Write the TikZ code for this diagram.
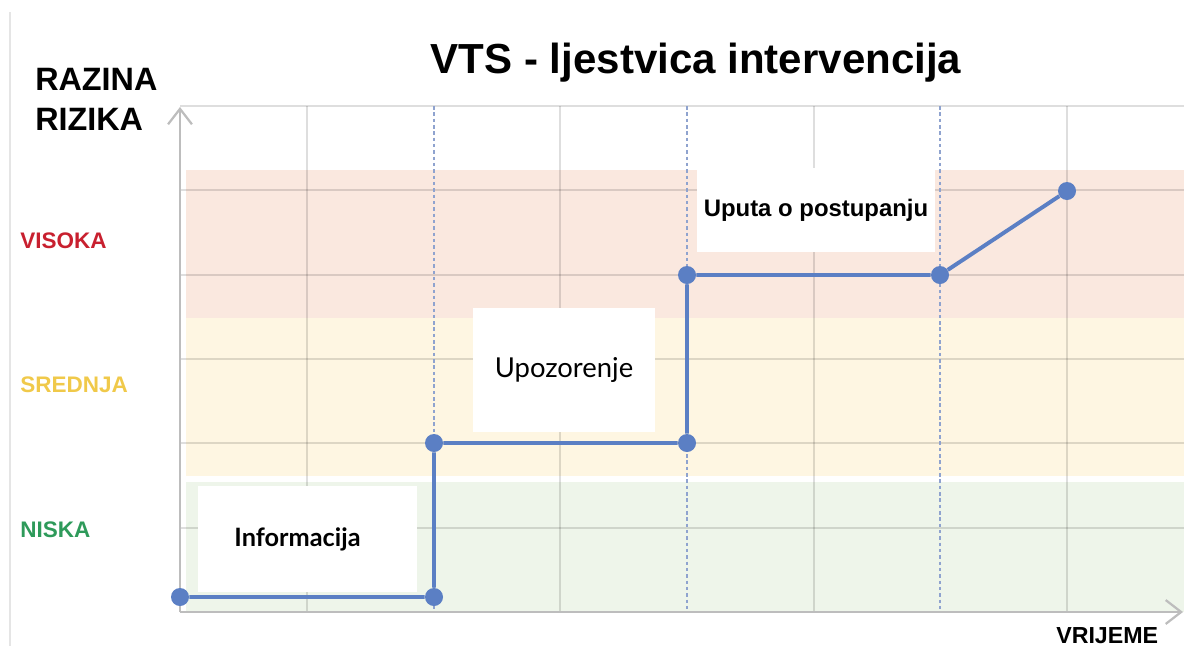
\documentclass[tikz,border=0pt]{standalone}
\usepackage{fontspec}
\setmainfont{Liberation Sans}
\newfontfamily\latofont{Lato}
\usetikzlibrary{arrows.meta, positioning}
\definecolor{bandhigh}{HTML}{FAE8DF}
\definecolor{bandmid}{HTML}{FEF6E2}
\definecolor{bandlow}{HTML}{EEF5EA}
\definecolor{stepblue}{HTML}{5B7FC4}
\definecolor{dashblue}{HTML}{8FA3CF}
\definecolor{axisgray}{HTML}{BDBDBD}
\definecolor{txthigh}{HTML}{C8202F}
\definecolor{txtmid}{HTML}{F0C94A}
\definecolor{txtlow}{HTML}{2E9A5A}
\tikzset{
  gridline/.style = {draw=black, draw opacity=0.13, line width=1.1pt},
  switchline/.style = {draw=dashblue, line width=1.5pt, dash pattern=on 2.5pt off 2pt},
  stepline/.style = {draw=stepblue, line width=2.8pt},
  dot/.style = {circle, fill=stepblue, inner sep=0pt, minimum size=12.8pt},
  axis/.style = {draw=axisgray, line width=2pt, -{Straight Barb[length=11pt, width=17pt, line width=1.6pt]}},
  msgbox/.style = {fill=white, inner sep=0pt},
  level/.style = {font=\fontsize{16}{18}\selectfont\bfseries, anchor=base west}
}

\begin{document}
\begin{tikzpicture}[x=0.025cm, y=-0.025cm]
  \useasboundingbox (0,0) rectangle (1184,646);
  \draw[black!10, line width=0.8pt] (10,12) -- (10,646);

  % risk bands
  \fill[bandhigh] (186,170) rectangle (1184,318);
  \fill[bandmid] (186,318) rectangle (1184,476);
  \fill[bandlow] (186,482) rectangle (1184,612);

  % grid
  \draw[gridline] (180,106) -- (1184,106);
  \foreach \y in {190,275,359,443,528} \draw[gridline] (180,\y) -- (1184,\y);
  \foreach \x in {307,560,814,1067} \draw[gridline] (\x,106) -- (\x,612);
  \foreach \x in {434,687,940} \draw[switchline] (\x,106) -- (\x,612);

  % messages
  \node[msgbox, minimum width=5.48cm, minimum height=2.65cm] (info) at (307.5,539)
    {\latofont\fontsize{18}{20}\selectfont\bfseries Informacija\hspace*{0.5cm}};
  \node[msgbox, minimum width=4.55cm, minimum height=3.1cm] (warn) at (564,370)
    {\latofont\fontsize{19.5}{22}\selectfont Upozorenje};
  \node[msgbox, minimum width=5.95cm, minimum height=2.1cm] (instr) at (816,210)
    {\fontsize{17}{20}\selectfont\bfseries Uputa o postupanju};

  % axes
  \coordinate (origin) at (180,612);
  \coordinate (ytip) at (180,107);
  \coordinate (xtip) at (1183,612);
  \draw[axis] (origin) -- (ytip);
  \draw[axis] (origin) -- (xtip);

  % escalation
  \path (180,597) node[dot] (p0) {}
      ++(254,0) node[dot] (p1) {}
      ++(0,-154) node[dot] (p2) {}
      ++(253,0) node[dot] (p3) {}
      ++(0,-168) node[dot] (p4) {}
      ++(253,0) node[dot] (p5) {}
      ++(127,-84) node[dot] (p6) {};
  \draw[stepline] (p0) -- (p1) -- (p2) -- (p3) -- (p4) -- (p5) -- (p6);

  % labels
  \node[font=\fontsize{29.9}{34}\selectfont\bfseries, anchor=base] (title) at (696,73) {VTS - ljestvica intervencija};
  \node[font=\fontsize{23}{27}\selectfont\bfseries, anchor=base west, inner sep=0pt] (razina) at (35,90) {RAZINA};
  \node[font=\fontsize{23}{27}\selectfont\bfseries, anchor=base west, inner sep=0pt] (rizika) at (35,130) {RIZIKA};
  \node[level, txthigh, inner sep=0pt] (visoka) at (20,248) {VISOKA};
  \node[level, txtmid, inner sep=0pt] (srednja) at (20,392) {SREDNJA};
  \node[level, txtlow, inner sep=0pt] (niska) at (20,537) {NISKA};
  \node[font=\fontsize{16.5}{20}\selectfont\bfseries, anchor=base west, inner sep=0pt] (vrijeme) at (1056,643) {VRIJEME};
\end{tikzpicture}
\end{document}
